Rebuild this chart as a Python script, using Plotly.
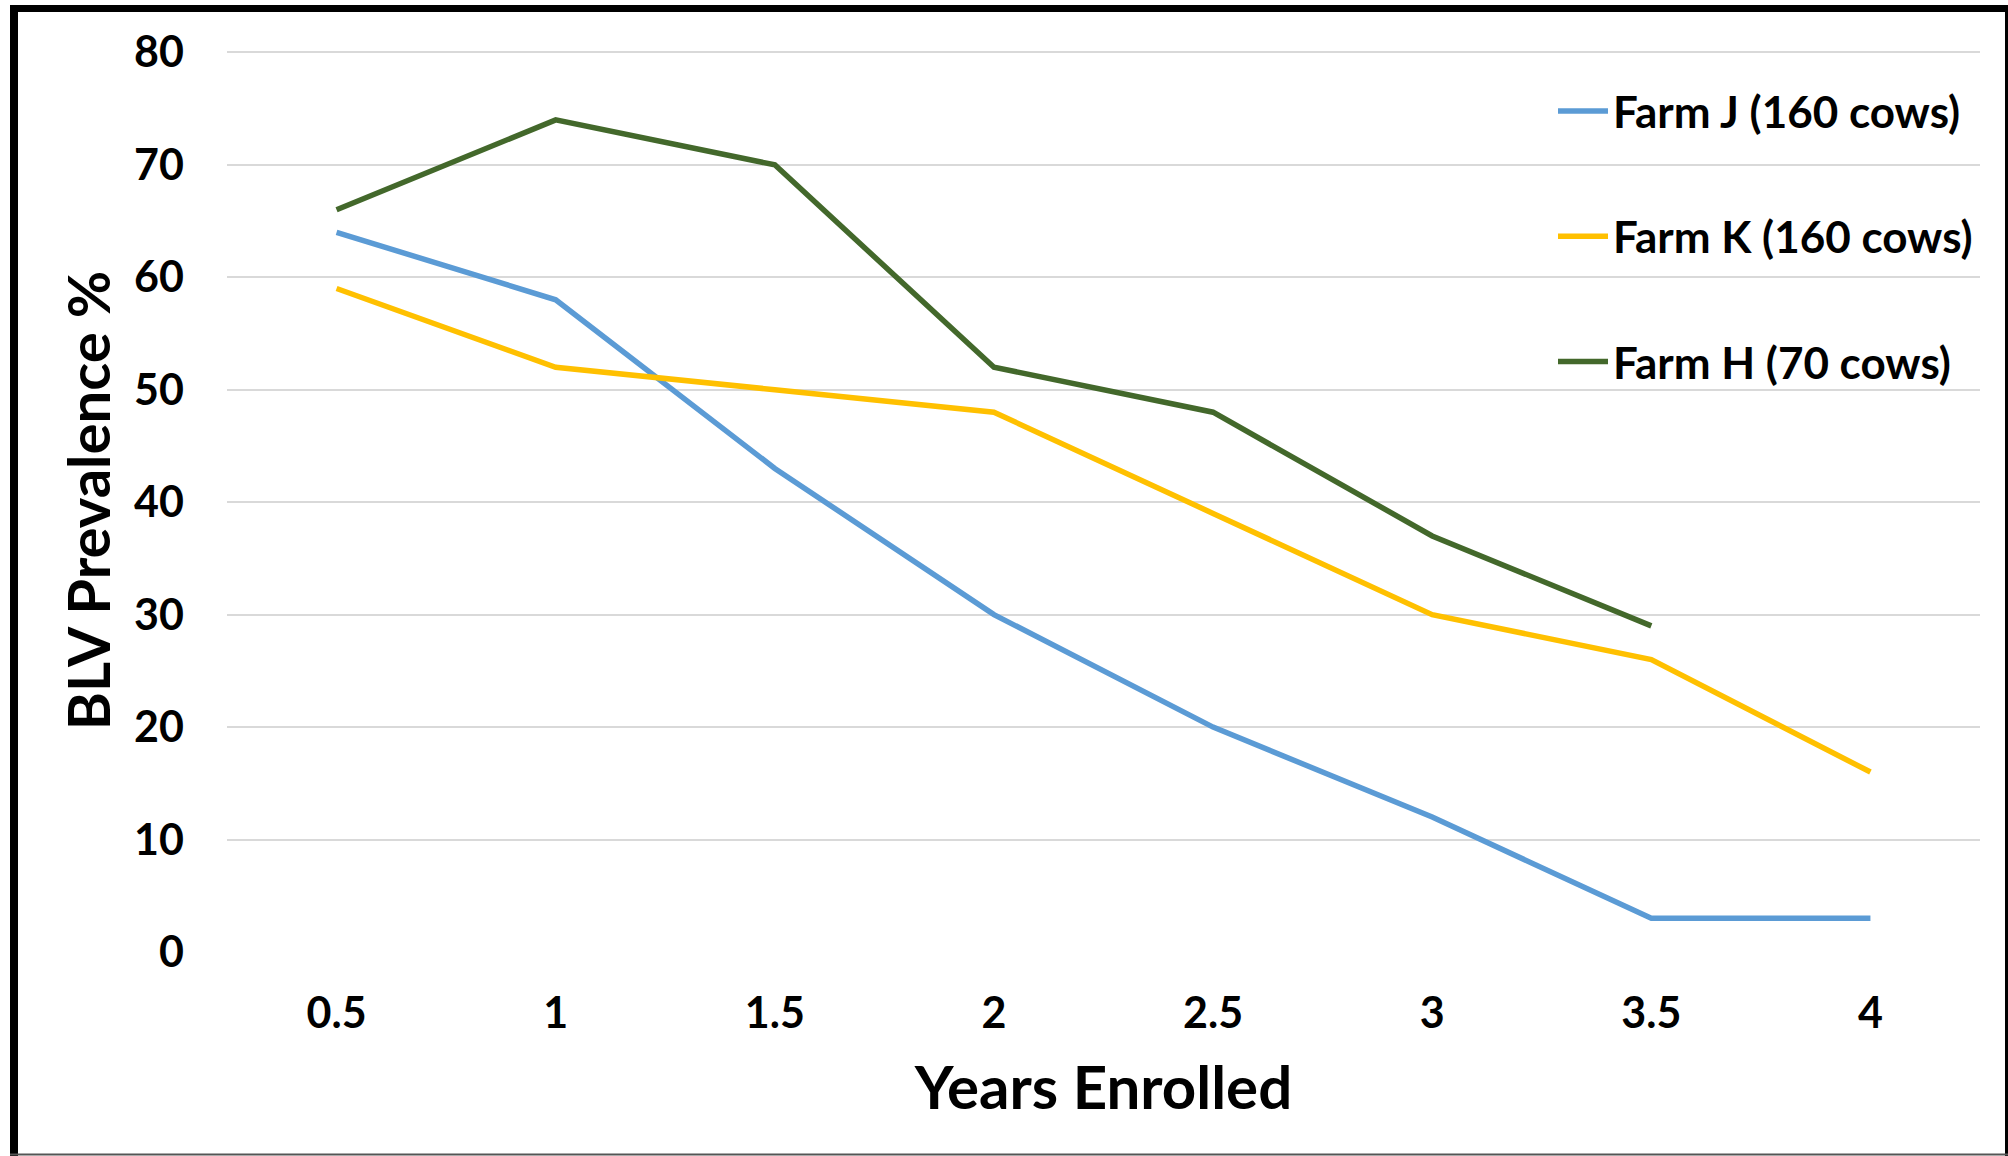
import plotly.graph_objects as go

years = ["0.5", "1", "1.5", "2", "2.5", "3", "3.5", "4"]
farm_j = [64, 58, 43, 30, 20, 12, 3, 3]
farm_k = [59, 52, 50, 48, 39, 30, 26, 16]
farm_h = [66, 74, 70, 52, 48, 37, 29, None]
names = ["Farm J (160 cows)", "Farm K (160 cows)", "Farm H (70 cows)"]
colors = ["#5B9BD5", "#FFC000", "#43682B"]
y_ticks = [0, 10, 20, 30, 40, 50, 60, 70, 80]

W, H = 2008, 1156
L, R, T, B = 227, 28, 49, 204
FONT = "Lato"


def px(xp):
    return (xp - L) / (W - L - R)


def py(yp):
    return (H - B - yp) / (H - T - B)


fig = go.Figure()
for i, (name, vals, col) in enumerate(zip(names, [farm_j, farm_k, farm_h], colors)):
    fig.add_trace(go.Scatter(
        x=years, y=vals, name=name, mode="lines",
        line=dict(color=col, width=5.5), legendgroup=f"g{i}",
        connectgaps=False,
    ))

fig.update_layout(
    width=W, height=H,
    margin=dict(l=L, r=R, t=T, b=B, pad=0, autoexpand=False),
    paper_bgcolor="white", plot_bgcolor="white",
    font=dict(family=FONT, color="black"),
    showlegend=True,
    legend=dict(
        x=px(1553), y=py(76),
        xanchor="left", yanchor="top",
        bgcolor="rgba(0,0,0,0)",
        font=dict(family=FONT, size=44, color="black", weight="bold"),
        tracegroupgap=65,
        itemwidth=50,
    ),
    xaxis=dict(
        type="category", range=[-0.5, 7.5],
        showgrid=False, showline=False, zeroline=False, ticks="",
        tickfont=dict(family=FONT, size=43, color="black", weight="bold"),
        ticklabelstandoff=32,
        title=dict(text="Years Enrolled", standoff=30,
                   font=dict(family=FONT, size=60, color="black", weight="bold")),
    ),
    yaxis=dict(
        range=[0, 80.3], tickvals=y_ticks,
        showgrid=True, gridcolor="#D9D9D9", gridwidth=2,
        zeroline=False, showline=False, ticks="",
        tickfont=dict(family=FONT, size=43, color="black", weight="bold"),
        ticklabelstandoff=42,
        title=dict(text="BLV Prevalence %", standoff=4,
                   font=dict(family=FONT, size=58, color="black", weight="bold")),
    ),
)

# figure border (black frame around the chart)
fig.add_shape(type="line", xref="paper", yref="paper", x0=px(14), x1=px(14), y0=py(5), y1=py(1156),
              line=dict(color="black", width=8))
fig.add_shape(type="line", xref="paper", yref="paper", x0=px(10), x1=px(2008), y0=py(8.5), y1=py(8.5),
              line=dict(color="black", width=7))
fig.add_shape(type="line", xref="paper", yref="paper", x0=px(2006.5), x1=px(2006.5), y0=py(5), y1=py(1156),
              line=dict(color="black", width=3))
fig.add_shape(type="line", xref="paper", yref="paper", x0=px(10), x1=px(2008), y0=py(1154.5), y1=py(1154.5),
              line=dict(color="#555555", width=2))

fig.write_html(
    "out.html",
    config={"displayModeBar": False},
    post_script="document.body.style.margin='0';document.body.style.padding='0';",
)
